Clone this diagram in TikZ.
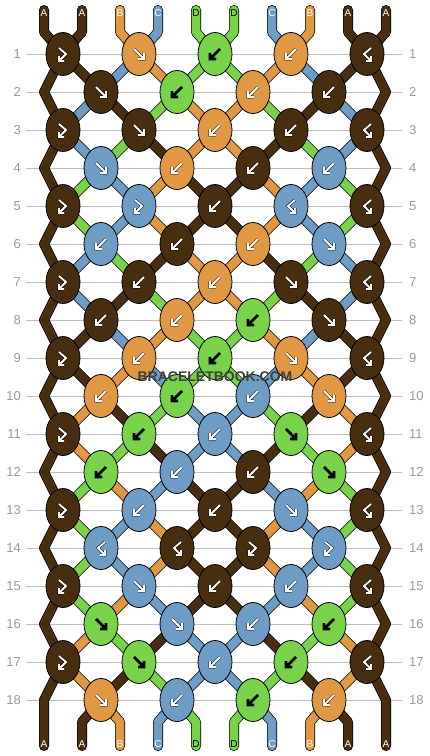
\documentclass[tikz,border=0pt]{standalone}
\usepackage{fontspec}
\setmainfont{Liberation Sans}
\usetikzlibrary{shapes.geometric,backgrounds}

\definecolor{brn}{HTML}{482E10}
\definecolor{org}{HTML}{E09844}
\definecolor{blu}{HTML}{6E9CC4}
\definecolor{grn}{HTML}{78D24A}
\colorlet{brnfg}{white}
\colorlet{orgfg}{white}
\colorlet{blufg}{white}
\colorlet{grnfg}{black}
\definecolor{rowgray}{HTML}{BEBEBE}
\definecolor{numgray}{HTML}{9A9A9A}
\definecolor{markgray}{HTML}{404040}

\tikzset{
  knot/.style={ellipse, draw=black, line width=0.8pt, fill=#1, minimum width=34pt, minimum height=43pt, inner sep=0pt},
  thread/.style={draw=black, line width=0.7pt, double=#1, double distance=8.6pt, line join=round},
  threadend/.style={thread=#1, line cap=round},
  arrw/.style={draw=#1, line width=1.8pt, preaction={draw=black, line width=2.8pt}},
  lbl/.style={text=#1, inner sep=0pt, font=\fontsize{10}{10}\selectfont},
  rownum/.style={text=numgray, inner sep=0pt, font=\fontsize{13}{13}\selectfont},
  rowline/.style={draw=rowgray, line width=1pt},
  pics/fw/.style={code={\draw[arrw=#1] (-5,-5) -- (5,5) (5,-1) -- (5,5) -- (-1,5);}},
  pics/bw/.style={code={\draw[arrw=#1] (5,-5) -- (-5,5) (-5,-1) -- (-5,5) -- (1,5);}},
  pics/fb/.style={code={\draw[arrw=#1] (-4,-6) -- (3,0) -- (-4,7) (-4,2) -- (-4,7) -- (1,7);}},
  pics/bf/.style={code={\draw[arrw=#1] (4,-6) -- (-3,0) -- (4,7) (4,2) -- (4,7) -- (-1,7);}}
}

\begin{document}
\begin{tikzpicture}[x=1pt, y=-1pt]
\useasboundingbox (0,0) rectangle (430,756);

\foreach \rw in {1,...,18}{
  \node[rownum, anchor=east] (nl\rw) at (21,{54+38*(\rw-1)}) {\rw};
  \node[rownum, anchor=west] (nr\rw) at (409,{54+38*(\rw-1)}) {\rw};
}

\foreach \rw/\ks in {
  1/{brn/fb,org/fw,grn/bw,org/bw,brn/bf},
  2/{brn/fw,grn/bw,org/bw,brn/bw},
  3/{brn/fb,brn/fw,org/bw,brn/bw,brn/bf},
  4/{blu/fw,org/bw,brn/bw,blu/bw},
  5/{brn/fb,blu/fb,brn/bw,blu/bf,brn/bf},
  6/{blu/bw,brn/bw,org/bw,blu/fw},
  7/{brn/fb,brn/bw,org/bw,brn/fw,brn/bf},
  8/{brn/bw,org/bw,grn/bw,brn/fw},
  9/{brn/fb,org/bw,grn/bw,org/fw,brn/bf},
  10/{org/bw,grn/bw,blu/bw,org/fw},
  11/{brn/fb,grn/bw,blu/bw,grn/fw,brn/bf},
  12/{grn/bw,blu/bw,brn/bw,grn/fw},
  13/{brn/fb,blu/bw,brn/bw,blu/fw,brn/bf},
  14/{blu/bf,brn/bf,brn/fb,blu/fb},
  15/{brn/fb,blu/fw,brn/bw,blu/bw,brn/bf},
  16/{grn/fw,blu/fw,blu/bw,grn/bw},
  17/{brn/fb,grn/fw,blu/bw,grn/bw,brn/bf},
  18/{org/fw,blu/bw,grn/bw,org/bw}}{
  \pgfmathtruncatemacro\ky{54+38*(\rw-1)}
  \pgfmathtruncatemacro\odd{mod(\rw,2)}
  \ifnum\odd=0
    \coordinate (r\rw-0) at (44,\ky);
    \coordinate (r\rw-9) at (386,\ky);
  \fi
  \foreach \col/\kind [count=\j from 0] in \ks {
    \ifnum\odd=1
      \pgfmathtruncatemacro\kx{63+76*\j}
      \pgfmathtruncatemacro\pa{2*\j}
    \else
      \pgfmathtruncatemacro\kx{101+76*\j}
      \pgfmathtruncatemacro\pa{2*\j+1}
    \fi
    \pgfmathtruncatemacro\pb{\pa+1}
    \node[knot=\col, alias=r\rw-\pb] (r\rw-\pa) at (\kx,\ky) {};
    \pic at (r\rw-\pa) {\kind=\col fg};
  }
}

\foreach \col/\lt [count=\p from 0] in {brn/A,brn/A,org/B,blu/C,grn/D,grn/D,blu/C,org/B,brn/A,brn/A}{
  \node[lbl=\col fg] (la\p) at ({44+38*\p},13) {\lt};
  \node[lbl=\col fg] (lb\p) at ({44+38*\p},744) {\lt};
}

\node[font=\bfseries\fontsize{14}{14}\selectfont, text=markgray] (wm) at (215,377) {BRACELETBOOK.COM};

\begin{pgfonlayer}{background}
\foreach \rw in {1,...,18}
  \draw[rowline] ([xshift=5pt]nl\rw.east) -- ([xshift=-7pt]nr\rw.west);

\foreach \rw/\cs in {
  1/{brn,blu,org,grn,grn,org,blu,brn},
  2/{blu,brn,grn,org,org,grn,brn,blu},
  3/{blu,grn,brn,org,org,brn,grn,blu},
  4/{grn,blu,org,brn,brn,org,blu,grn},
  5/{grn,blu,org,brn,brn,org,blu,grn},
  6/{blu,grn,brn,org,org,brn,grn,blu},
  7/{blu,brn,grn,org,org,grn,brn,blu},
  8/{brn,blu,org,grn,grn,org,blu,brn},
  9/{brn,org,blu,grn,grn,blu,org,brn},
  10/{org,brn,grn,blu,blu,grn,brn,org},
  11/{org,grn,brn,blu,blu,brn,grn,org},
  12/{grn,org,blu,brn,brn,blu,org,grn},
  13/{grn,blu,org,brn,brn,org,blu,grn},
  14/{grn,blu,org,brn,brn,org,blu,grn},
  15/{grn,org,blu,brn,brn,blu,org,grn},
  16/{org,grn,brn,blu,blu,brn,grn,org},
  17/{org,brn,grn,blu,blu,grn,brn,org}}{
  \pgfmathtruncatemacro\nx{\rw+1}
  \foreach \col [count=\p] in \cs
    \draw[thread=\col] (r\rw-\p.center) -- (r\nx-\p.center);
}

\foreach \rw in {1,3,...,15}{
  \pgfmathtruncatemacro\nx{\rw+1}
  \pgfmathtruncatemacro\nn{\rw+2}
  \draw[thread=brn] (r\rw-0.center) -- (r\nx-0) -- (r\nn-0.center);
  \draw[thread=brn] (r\rw-9.center) -- (r\nx-9) -- (r\nn-9.center);
}
\draw[threadend=brn] (r17-0.center) -- (r18-0) -- ([yshift=-2pt]lb0.center);
\draw[threadend=brn] (r17-9.center) -- (r18-9) -- ([yshift=-2pt]lb9.center);

\foreach \col [count=\p from 0] in {brn,brn,org,blu,grn,grn,blu,org,brn,brn}{
  \draw[threadend=\col] ([yshift=3pt]la\p.center) -- ++(0,22) -- (r1-\p.center);
  \ifnum\p>0 \ifnum\p<9
    \draw[threadend=\col] (r18-\p.center) -- ([yshift=22pt]lb\p.center) -- ([yshift=-2pt]lb\p.center);
  \fi\fi
}
\end{pgfonlayer}
\end{tikzpicture}
\end{document}
